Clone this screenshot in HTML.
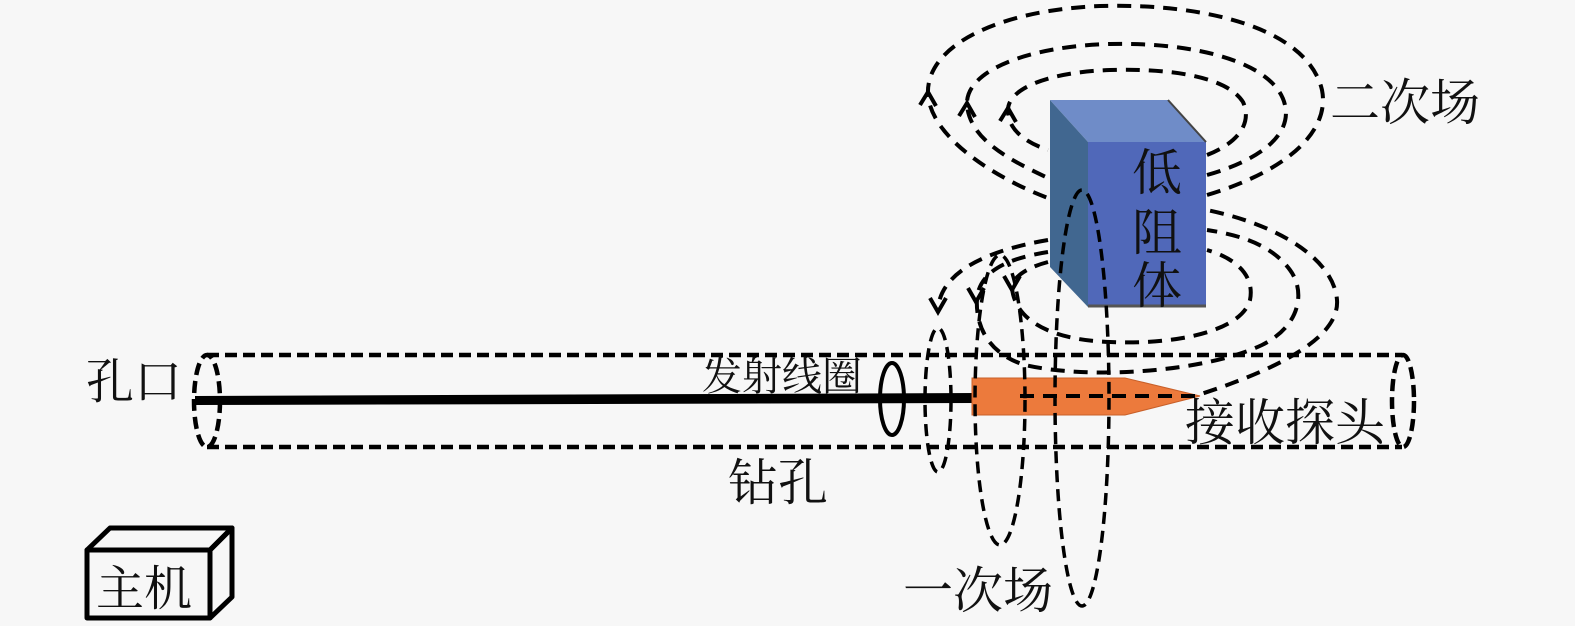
<!DOCTYPE html>
<html><head><meta charset="utf-8"><style>
html,body{margin:0;padding:0;background:#f7f7f7;}
svg{display:block;}
text{font-family:"Liberation Serif","Noto Serif CJK SC","Noto Sans CJK SC",serif;fill:#111;}
</style></head><body>
<svg width="1575" height="626" viewBox="0 0 1575 626" xmlns="http://www.w3.org/2000/svg">
<rect width="1575" height="626" fill="#f7f7f7"/>
<!-- borehole -->
<g fill="none" stroke="#000" stroke-width="4.5" stroke-dasharray="12 6">
<line x1="207" y1="355" x2="1402" y2="355"/>
<line x1="207" y1="447" x2="1402" y2="447"/>
<ellipse cx="207" cy="401" rx="13" ry="46"/>
<ellipse cx="1403" cy="401" rx="11" ry="46"/>
</g>
<!-- rod -->
<polygon points="195,396 977,393 977,403 195,405" fill="#000"/>
<!-- transmitter coil -->
<ellipse cx="892" cy="399" rx="12" ry="36" fill="none" stroke="#000" stroke-width="4"/>
<!-- probe -->
<polygon points="972,378 1125,378 1200,396 1125,415 972,415" fill="#ec7a3c" stroke="#c8602a" stroke-width="1"/>
<!-- cube -->
<polygon points="1050,100 1168,100 1206,142 1088,142" fill="#6f8cc8"/>
<polygon points="1050,100 1088,142 1088,307 1050,267" fill="#416790"/>
<polygon points="1088,142 1206,142 1206,307 1088,307" fill="#5068b9"/>
<line x1="1088" y1="306" x2="1206" y2="306" stroke="#555" stroke-width="3"/>
<line x1="1168" y1="100" x2="1206" y2="142" stroke="#444" stroke-width="2"/>
<text x="1132" y="190" font-size="50" fill="#223">低</text>
<text x="1132" y="250" font-size="50" fill="#223">阻</text>
<text x="1132" y="303" font-size="50" fill="#223">体</text>
<!-- primary field -->
<g fill="none" stroke="#000" stroke-width="3.5" stroke-dasharray="12 7">
<ellipse cx="938" cy="400" rx="13" ry="72"/>
<ellipse cx="1000" cy="400" rx="25" ry="145"/>
<ellipse cx="1082" cy="398" rx="27" ry="208"/>
</g>
<!-- secondary field -->
<g fill="none" stroke="#000" stroke-width="4" stroke-dasharray="14 9">
<path d="M1207,195 C1290,170 1330,130 1322,90 C1308,30 1210,3 1100,6 C1000,10 925,45 928,95 C932,140 1000,180 1048,198"/>
<path d="M1207,175 C1260,160 1292,135 1285,105 C1275,62 1195,42 1110,44 C1030,46 965,70 967,105 C970,140 1010,160 1048,178"/>
<path d="M1207,155 C1240,142 1252,122 1243,102 C1228,78 1175,68 1110,70 C1050,72 1008,88 1008,110 C1008,130 1025,142 1048,150"/>
<path d="M1048,240 C990,250 942,270 938,308"/>
<path d="M1020,396 L1195,396 C1270,372 1340,340 1337,300 C1334,260 1280,225 1207,210"/>
<path d="M1048,252 C1010,258 980,270 977,298 C975,330 992,355 1025,365 C1090,380 1205,372 1262,345 C1302,325 1305,290 1290,270 C1272,245 1240,235 1207,230"/>
<path d="M1048,262 C1025,268 1012,278 1012,288 C1015,320 1050,340 1110,342 C1180,345 1242,330 1250,300 C1255,275 1235,258 1207,250"/>
</g>
<!-- arrows -->
<g fill="none" stroke="#000" stroke-width="4">
<path d="M920,105 L928,92 L936,106"/>
<path d="M959,116 L967,103 L975,117"/>
<path d="M1000,121 L1008,108 L1016,122"/>
<path d="M930,298 L938,312 L946,298"/>
<path d="M968,288 L976,302 L984,288"/>
<path d="M1004,276 L1012,290 L1020,276"/>
</g>
<!-- labels -->
<text x="86" y="398" font-size="48">孔口</text>
<text x="702" y="390" font-size="40">发射线圈</text>
<text x="1185" y="440" font-size="50">接收探头</text>
<text x="728" y="500" font-size="50">钻孔</text>
<text x="903" y="608" font-size="50">一次场</text>
<text x="1330" y="120" font-size="50">二次场</text>
<!-- host box -->
<g fill="none" stroke="#000" stroke-width="5" stroke-linejoin="round">
<polygon points="110,528 232,528 210,550 87,550"/>
<polygon points="232,528 232,597 210,618 210,550"/>
<rect x="87" y="550" width="123" height="68"/>
</g>
<text x="96" y="605" font-size="48">主机</text>
</svg>
</body></html>
